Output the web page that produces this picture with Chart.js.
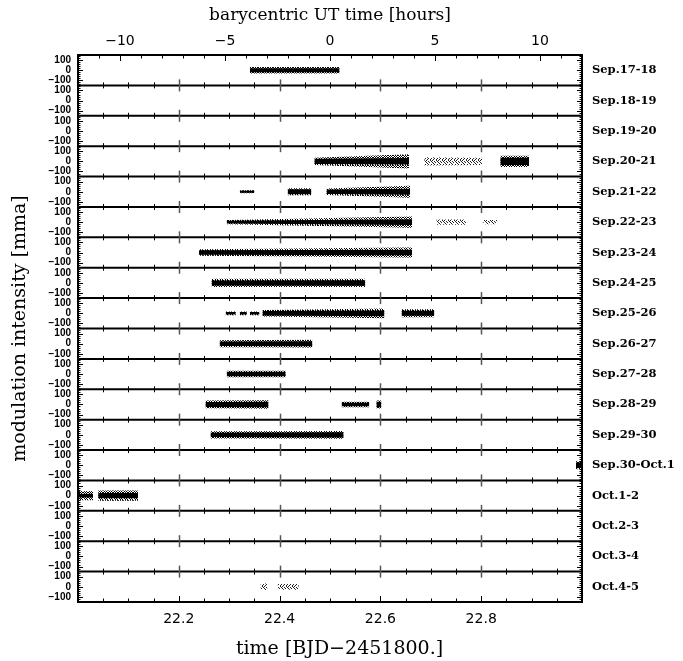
<!DOCTYPE html>
<html><head><meta charset="utf-8">
<script src="https://cdn.jsdelivr.net/npm/chart.js@4.4.1/dist/chart.umd.min.js"></script>
<style>html,body{margin:0;padding:0;background:#fff;}canvas{display:block;}</style>
</head><body>
<canvas id="c" width="683" height="661"></canvas>
<script>
// ---------- data ----------
const panelLabels = ['Sep.17-18','Sep.18-19','Sep.19-20','Sep.20-21','Sep.21-22','Sep.22-23','Sep.23-24','Sep.24-25','Sep.25-26','Sep.26-27','Sep.27-28','Sep.28-29','Sep.29-30','Sep.30-Oct.1','Oct.1-2','Oct.2-3','Oct.3-4','Oct.4-5'];
const yTickValues = [100, 0, -100];
const yRange = [-150, 150];
const xDayRange = [22.0, 23.0];
const xDayTicks = [22.2, 22.4, 22.6, 22.8];
const xHourTicks = [-10, -5, 0, 5, 10];
const utZeroDay = 22.5;
// observing segments: panel index, start/end time, envelope half-widths (mma) of dense core and of the scatter
const segPanel = [0, 3,3,3, 4,4,4, 5,5,5, 6, 7, 8,8,8,8,8, 9, 10, 11,11,11, 12, 13, 14,14, 17,17];
const segStart = [22.341, 22.469,22.687,22.838, 22.321,22.416,22.493, 22.295,22.711,22.804, 22.240, 22.265, 22.293,22.321,22.341,22.366,22.642, 22.281, 22.295, 22.253,22.523,22.592, 22.263, 22.988, 22.000,22.040, 22.362,22.396];
const segEnd   = [22.519, 22.657,22.802,22.895, 22.350,22.463,22.659, 22.663,22.770,22.832, 22.663, 22.570, 22.313,22.335,22.360,22.608,22.707, 22.465, 22.412, 22.378,22.578,22.602, 22.527, 23.000, 22.030,22.119, 22.376,22.438];
const coreStart = [20, 25,0,35, 10,25,22, 14,0,0, 22, 25, 12,12,12,22,25, 22, 22, 25,18,28, 22, 28, 18,25, 0,0];
const coreEnd   = [20, 32,0,35, 10,25,30, 28,0,0, 28, 27, 12,12,12,28,25, 25, 22, 28,18,28, 25, 28, 18,25, 0,0];
const sprStart  = [32, 35,40,55, 16,35,32, 22,25,22, 32, 40, 18,18,18,32,40, 35, 32, 38,28,40, 36, 40, 45,50, 32,28];
const sprEnd    = [32, 70,35,55, 16,35,58, 55,25,22, 50, 40, 18,18,18,48,40, 38, 32, 42,28,40, 38, 40, 45,50, 32,28];

// ---------- build ----------
const span = yRange[1] - yRange[0];
const offset = i => -span * i;
const canvas = document.getElementById('c');
function speckle(size, dots, color) {
  const t = document.createElement('canvas');
  t.width = size; t.height = size;
  const g = t.getContext('2d');
  g.fillStyle = color;
  dots.forEach(([px, py]) => g.fillRect(px, py, 1, 1));
  return canvas.getContext('2d').createPattern(t, 'repeat');
}
const haloDense = speckle(5, [[0,0],[2,0],[3,0],[1,1],[4,1],[0,2],[2,2],[3,2],[1,3],[4,3],[0,4],[2,4]], '#000');
const haloSparse = speckle(6, [[0,0],[3,0],[1,1],[5,2],[2,2],[1,3],[4,3],[4,4],[0,4],[2,5],[5,5]], '#222');
const datasets = [];
function band(t0, t1, o, a, b, color) {
  datasets.push({data:[{x:t0,y:o-a},{x:t1,y:o-b}], borderWidth:0, pointRadius:0, fill:false, borderColor:'rgba(0,0,0,0)'});
  datasets.push({data:[{x:t0,y:o+a},{x:t1,y:o+b}], borderWidth:0, pointRadius:0, fill:'-1', backgroundColor:color, borderColor:'rgba(0,0,0,0)'});
}
segPanel.forEach((p, k) => {
  const o = offset(p);
  const dense = coreStart[k] > 0;
  band(segStart[k], segEnd[k], o, sprStart[k], sprEnd[k], dense ? haloDense : haloSparse);
  if (dense) band(segStart[k], segEnd[k], o, coreStart[k], coreEnd[k], '#000');
});

const yTicks = [];
panelLabels.forEach((_, i) => yTickValues.forEach(v => yTicks.push(offset(i) + v)));
yTicks.sort((a, b) => a - b);
const yCenters = panelLabels.map((_, i) => offset(i)).sort((a, b) => a - b);
const minus = v => (v < 0 ? '\u2212' + Math.abs(v) : String(v));

const frame = {
  id: 'frame',
  afterDatasetsDraw(chart) {
    const {ctx, chartArea: a, scales: {x, x2, y}} = chart;
    ctx.save();
    const line = (x0, y0, x1, y1, w, c) => { ctx.strokeStyle = c || '#000'; ctx.lineWidth = w; ctx.beginPath(); ctx.moveTo(x0, y0); ctx.lineTo(x1, y1); ctx.stroke(); };
    const n = panelLabels.length;
    for (let i = 0; i < n; i++) {
      for (let v = -140; v <= 140; v += 20) {
        const py = Math.round(y.getPixelForValue(offset(i) + v)) + 0.5;
        line(a.left, py, a.left + 2.5, py, 1);
        line(a.right, py, a.right - 2.5, py, 1);
      }
      yTickValues.forEach(v => {
        const py = Math.round(y.getPixelForValue(offset(i) + v)) + 0.5;
        line(a.left, py, a.left + 5, py, 1);
        line(a.right, py, a.right - 5, py, 1);
      });
    }
    for (let i = 1; i < n; i++) {
      const py = y.getPixelForValue(offset(i) + yRange[1]);
      line(a.left, py, a.right, py, 2);
      for (let k = 1; k < 20; k++) {
        const px = Math.round(x.getPixelForValue(xDayRange[0] + k * 0.05)) + 0.5;
        if (k % 4 === 0) line(px, py - 6, px, py + 6, 1.5, '#555');
        else line(px, py - 3, px, py + 3, 1);
      }
    }
    for (let k = 1; k < 20; k++) {
      const px = Math.round(x.getPixelForValue(xDayRange[0] + k * 0.05)) + 0.5;
      line(px, a.bottom, px, a.bottom - (k % 4 === 0 ? 6 : 3.5), 1);
    }
    for (let h = -11; h <= 11; h++) {
      const px = Math.round(x2.getPixelForValue(h)) + 0.5;
      line(px, a.top, px, a.top + (h % 5 === 0 ? 6 : 3.5), 1);
    }
    ctx.strokeStyle = '#000';
    ctx.lineWidth = 2;
    ctx.strokeRect(a.left, a.top, a.right - a.left, a.bottom - a.top);
    ctx.restore();
  }
};

const tickFont = {family: 'DejaVu Sans', size: 14};
new Chart(canvas, {
  type: 'line',
  data: {datasets},
  plugins: [frame],
  options: {
    responsive: false,
    animation: false,
    devicePixelRatio: 1,
    layout: {padding: 0},
    plugins: {legend: {display: false}, tooltip: {enabled: false}},
    scales: {
      x: {
        type: 'linear', position: 'bottom', min: xDayRange[0], max: xDayRange[1],
        afterBuildTicks: s => { s.ticks = xDayTicks.map(v => ({value: v})); },
        afterFit: s => { s.height = 59; },
        grid: {display: false, drawTicks: false}, border: {display: false},
        ticks: {callback: v => v.toFixed(1), font: tickFont, color: '#000', padding: 9, maxRotation: 0, autoSkip: false},
        title: {display: true, text: '\u2002\u2002time [BJD\u22122451800.]', font: {family: 'DejaVu Serif', size: 19}, color: '#000', padding: {top: 0, bottom: 1}}
      },
      x2: {
        type: 'linear', position: 'top', min: (xDayRange[0] - utZeroDay) * 24, max: (xDayRange[1] - utZeroDay) * 24,
        afterBuildTicks: s => { s.ticks = xHourTicks.map(v => ({value: v})); },
        afterFit: s => { s.height = 55; },
        grid: {display: false, drawTicks: false}, border: {display: false},
        ticks: {callback: v => minus(v), font: tickFont, color: '#000', padding: 5, maxRotation: 0, autoSkip: false},
        title: {display: true, text: 'barycentric UT time [hours]', font: {family: 'DejaVu Serif', size: 17}, color: '#000', padding: {top: 5, bottom: 0}}
      },
      y: {
        type: 'linear', position: 'left', min: offset(panelLabels.length - 1) + yRange[0], max: yRange[1],
        afterBuildTicks: s => { s.ticks = yTicks.map(v => ({value: v})); },
        afterFit: s => { s.width = 78; },
        grid: {display: false, drawTicks: false}, border: {display: false},
        ticks: {
          callback: v => { const i = Math.round(-v / span); return minus(Math.round(v - offset(i))); },
          font: {family: 'Liberation Sans', weight: 'bold', size: 10}, color: '#000', padding: 7, autoSkip: false
        },
        title: {display: true, text: 'modulation intensity [mma]', font: {family: 'DejaVu Serif', size: 19}, color: '#000', padding: {top: 9, bottom: 0}}
      },
      yR: {
        type: 'linear', position: 'right', min: offset(panelLabels.length - 1) + yRange[0], max: yRange[1],
        afterBuildTicks: s => { s.ticks = yCenters.map(v => ({value: v})); },
        afterFit: s => { s.width = 101; },
        grid: {display: false, drawTicks: false}, border: {display: false},
        ticks: {
          callback: v => panelLabels[Math.round(-v / span)],
          font: {family: 'DejaVu Serif', weight: 'bold', size: 11.5}, color: '#000', padding: 10, autoSkip: false
        }
      }
    }
  }
});
</script>
</body></html>
